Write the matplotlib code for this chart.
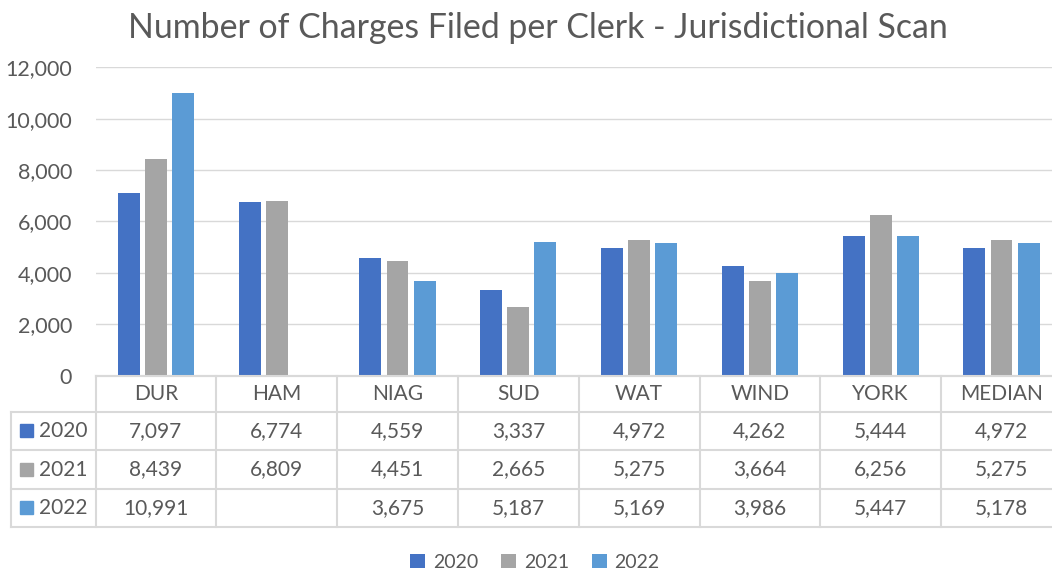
import matplotlib
matplotlib.use("Agg")
import matplotlib.pyplot as plt
import matplotlib.transforms as mtransforms
from matplotlib.patches import Rectangle
import numpy as np

plt.rcParams['font.family'] = ['Lato', 'DejaVu Sans']

categories = ['DUR', 'HAM', 'NIAG', 'SUD', 'WAT', 'WIND', 'YORK', 'MEDIAN']
years = ['2020', '2021', '2022']
v2020 = [7097, 6774, 4559, 3337, 4972, 4262, 5444, 4972]
v2021 = [8439, 6809, 4451, 2665, 5275, 3664, 6256, 5275]
v2022 = [10991, None, 3675, 5187, 5169, 3986, 5447, 5178]
series = [v2020, v2021, v2022]
colors = ['#4472C4', '#A5A5A5', '#5B9BD5']

txt = '#595959'
line_c = '#D9D9D9'
W, H = 1052, 572

fig = plt.figure(figsize=(W / 100, H / 100), dpi=100)

# plot area in pixels: left 95, top 67, bottom 376, one category = 120.8 px
px_left, px_top, px_bot, cat_w = 95.5, 67.3, 375.5, 120.8
ax = fig.add_axes([px_left / W, 1 - px_bot / H, len(categories) * cat_w / W, (px_bot - px_top) / H])

x = np.arange(len(categories))
bw = 0.182
offs = [-0.224, 0, 0.224]
for vals, c, o, yr in zip(series, colors, offs, years):
    hs = [v if v is not None else 0 for v in vals]
    ax.bar(x + o, hs, bw, color=c, label=yr, zorder=3)

ax.set_xlim(-0.5, len(categories) - 0.5)
ax.set_ylim(0, 12000)
ax.set_yticks(range(0, 12001, 2000))
ax.set_yticklabels([f'{t:,}' for t in range(0, 12001, 2000)], fontsize=15.5, color=txt)
ax.set_xticks([])
ax.grid(axis='y', color=line_c, linewidth=1, zorder=0)
for s in ['top', 'right', 'left']:
    ax.spines[s].set_visible(False)
ax.spines['bottom'].set_color(line_c)
ax.spines['bottom'].set_linewidth(1.5)
ax.tick_params(axis='y', length=0, pad=17)

fig.text(538 / W, 1 - 28 / H, 'Number of Charges Filed per Clerk - Jurisdictional Scan',
         fontsize=24.4, color=txt, ha='center', va='center')

# data table below the plot
tr = mtransforms.blended_transform_factory(ax.transData, fig.transFigure)
row_lines = [375.5, 412, 450, 489, 527]
fy = lambda p: 1 - p / H
lw = 1.5
# horizontal lines
fig.add_artist(plt.Line2D([px_left / W, 1.02], [fy(row_lines[0])] * 2, color=line_c, lw=lw))
for yl in row_lines[1:]:
    fig.add_artist(plt.Line2D([11 / W, 1.02], [fy(yl)] * 2, color=line_c, lw=lw))
# vertical lines
fig.add_artist(plt.Line2D([11 / W] * 2, [fy(row_lines[1]), fy(row_lines[-1])], color=line_c, lw=lw))
for i in range(len(categories) + 1):
    xp = (px_left + i * cat_w) / W
    fig.add_artist(plt.Line2D([xp] * 2, [fy(row_lines[0]), fy(row_lines[-1])], color=line_c, lw=lw))

fs = 15
for i, cat in enumerate(categories):
    fig.text(i, fy((row_lines[0] + row_lines[1]) / 2), cat, transform=tr,
             ha='center', va='center', fontsize=fs, color=txt)
for r, (vals, c, yr) in enumerate(zip(series, colors, years)):
    yc = (row_lines[r + 1] + row_lines[r + 2]) / 2
    fig.add_artist(Rectangle((20 / W, fy(yc + 6)), 13 / W, 13 / H, color=c, transform=fig.transFigure))
    fig.text(39 / W, fy(yc), yr, ha='left', va='center', fontsize=fs, color=txt)
    for i, v in enumerate(vals):
        if v is not None:
            fig.text(i, fy(yc), f'{v:,}', transform=tr, ha='center', va='center', fontsize=fs, color=txt)

fig.legend(loc='center', bbox_to_anchor=(535 / W, fy(562)), ncol=3, frameon=False,
           fontsize=14, labelcolor=txt, handlelength=0.75, handleheight=0.75,
           handletextpad=0.4, columnspacing=1.2)

fig.savefig('out.png', dpi=100)
